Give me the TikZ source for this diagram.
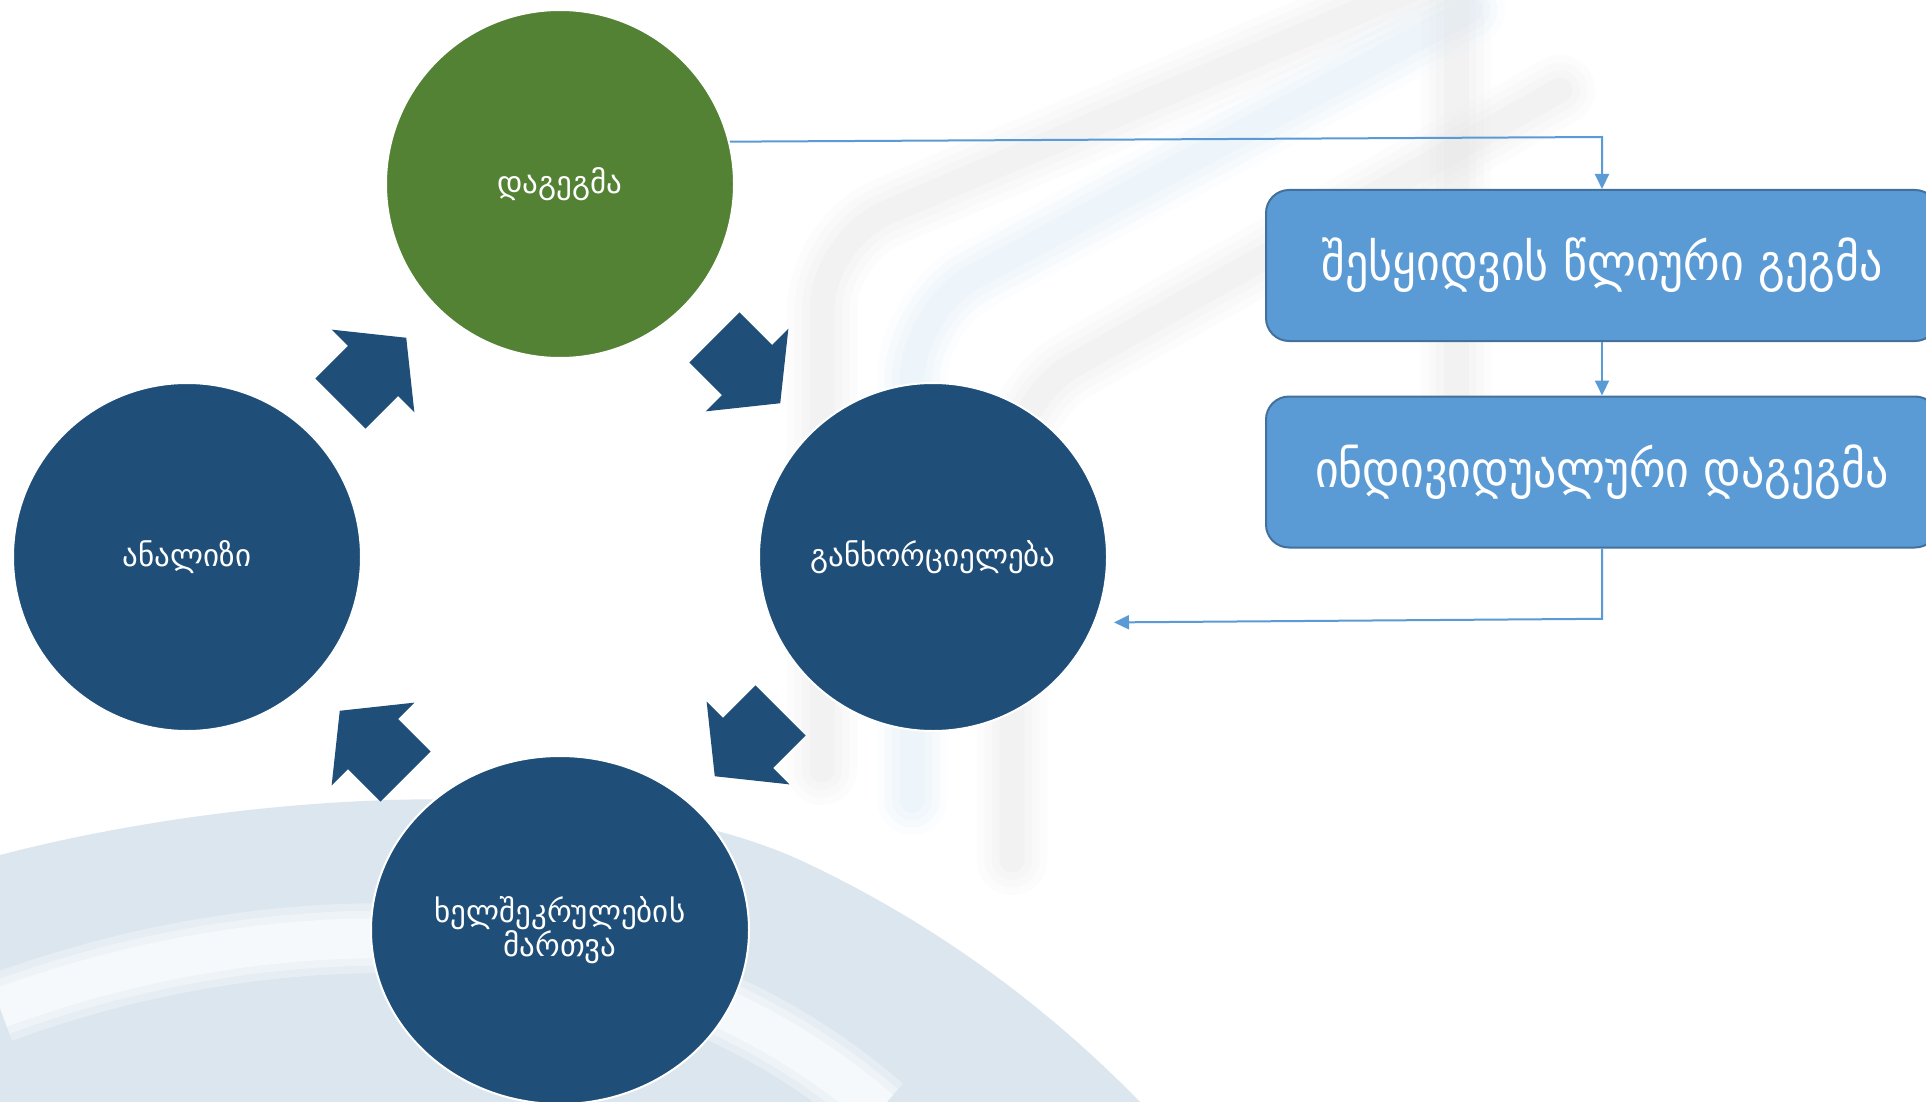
\documentclass[tikz,border=0pt]{standalone}
\usepackage{fontspec}
\setmainfont{DejaVu Sans}
\newfontfamily\boxfont{DejaVu Sans Condensed}
\usetikzlibrary{arrows.meta,shapes.geometric}
\definecolor{cgreen}{HTML}{548235}
\definecolor{cdark}{HTML}{1F4E79}
\definecolor{cbox}{HTML}{5B9BD5}
\definecolor{cboxline}{HTML}{41719C}
\definecolor{bgblue}{HTML}{DCE6EF}
\definecolor{bggrey}{HTML}{E2E2E2}
\definecolor{bglblue}{HTML}{D3E5F5}
\tikzset{
  phase/.style={circle, fill=cdark, draw=white, line width=2pt, minimum size=348pt,
    inner sep=0pt, text=white, font=\fontsize{31}{34}\selectfont, align=center},
  bx/.style={rectangle, rounded corners=23pt, fill=cbox, draw=cboxline, line width=2pt,
    minimum width=672pt, minimum height=151pt, text=white, font=\boxfont\fontsize{51}{58}\selectfont},
  conn/.style={draw=cbox, line width=2pt, -{Triangle[length=15pt,width=14pt]}},
  blockarrow/.pic={\fill[cdark] (-46,-35.5) -- (0,-35.5) -- (0,-58.5) -- (47,0)
    -- (0,58.5) -- (0,35.5) -- (-46,35.5) -- cycle;},
  ghost/.style={line cap=round, line join=round, rounded corners=70pt}
}
\begin{document}
\begin{tikzpicture}[x=1pt,y=-1pt]
\useasboundingbox (0,0) rectangle (1926,1102);
\clip (0,0) rectangle (1926,1102);
\fill[white] (0,0) rectangle (1926,1102);
% background: soft ghost frames
\foreach \w/\o in {70/0.07,55/0.09,40/0.12,25/0.16}{
  \draw[ghost, bggrey, line width=\w pt, opacity=\o] (822,770) -- (822,240) -- (1480,-40);
  \draw[ghost, bglblue, line width=\w pt, opacity=\o] (912,800) -- (912,310) -- (1470,10);
  \draw[ghost, bggrey, line width=\w pt, opacity=\o] (1012,860) -- (1012,400) -- (1560,90);
  \draw[ghost, bggrey, line width=\w pt, opacity=\o] (1456,0) -- (1456,420);
}
% background: bottom-left sweep
\fill[bgblue] (0,855) .. controls (250,790) and (600,770) .. (800,860)
  .. controls (950,930) and (1060,1020) .. (1140,1102) -- (0,1102) -- cycle;
\foreach \w/\o in {70/0.3,55/0.35,40/0.5}{
  \draw[white, line width=\w pt, opacity=\o] (0,1008) .. controls (250,915) and (620,885) .. (880,1110);
}
% cycle
\node[phase, fill=cgreen] (plan) at (560,184) {დაგეგმა};
\node[phase] (impl) at (933,557) {განხორციელება};
\node[phase, ellipse, minimum width=378pt, minimum height=348pt] (contract) at (560,930) {ხელშეკრულების\\მართვა};
\node[phase] (anal) at (187,557) {ანალიზი};
\pic[rotate=45] at (373,371) {blockarrow};
\pic[rotate=-45] at (747,370) {blockarrow};
\pic[rotate=-135] at (748,743) {blockarrow};
\pic[rotate=135] at (373,744) {blockarrow};
% boxes
\node[bx] (box1) at (1602,265.5) {შესყიდვის წლიური გეგმა};
\node[bx] (box2) at (1602,472) {ინდივიდუალური დაგეგმა};
\coordinate (c1) at (1602,137);
\coordinate (c2) at (1602,618.8);
\coordinate (c3) at (1114,622.4);
\draw[conn] (plan.14.3) -- (c1) -- (box1.north);
\draw[conn] (box1.south) -- (box2.north);
\draw[conn] (box2.south) -- (c2) -- (c3);
\end{tikzpicture}
\end{document}
